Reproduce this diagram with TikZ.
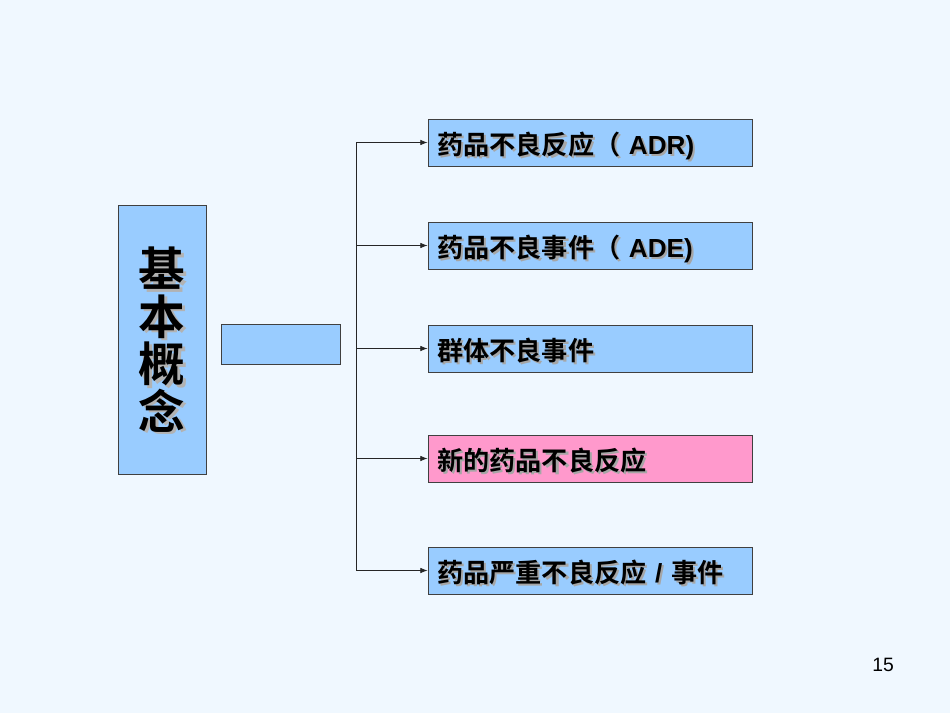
\documentclass[tikz,border=0pt]{standalone}
\usepackage{fontspec}
\setmainfont{Liberation Sans}
\newfontfamily\cjk{Noto Sans CJK SC}[BoldFont={Noto Sans CJK SC Bold}]
\usetikzlibrary{arrows.meta}

\definecolor{slidebg}{RGB}{240,248,255}
\definecolor{boxblue}{RGB}{153,204,255}
\definecolor{boxpink}{RGB}{255,153,204}

% text with a soft grey drop shadow
\newcommand{\shadowed}[1]{\makebox[0pt][l]{\hspace{1.6pt}\raisebox{-1.6pt}{\color{black!35}#1}}#1}
\newcommand{\lat}[1]{{\fontspec{Liberation Sans}\bfseries #1}}

\tikzset{
  conceptbox/.style={draw=black!75, fill=boxblue, line width=0.6pt,
    minimum width=243pt, minimum height=35.25pt, inner xsep=7pt,
    text width=229pt, text height=19pt, text depth=1.2pt, align=left,
    font=\cjk\bfseries\fontsize{19.6}{22}\selectfont},
  titletxt/.style={align=center, inner sep=0pt,
    font=\cjk\bfseries\fontsize{35}{35.6}\selectfont},
  arr/.style={black!85, line width=0.6pt, -{Latex[length=5.5pt, width=4.2pt]}}
}

\begin{document}
\begin{tikzpicture}[x=0.75pt,y=-0.75pt]
\fill[slidebg] (0,0) rectangle (950,713);
\useasboundingbox (0,0) rectangle (950,713);

% left column
\node[draw=black!75, fill=boxblue, line width=0.6pt, minimum width=66pt,
  minimum height=201.75pt] (basic) at (162,339.5) {};
\node[titletxt, black!30] (titleshadow) at (164.5,342) {基\\本\\概\\念};
\node[titletxt] (title) at (basic.center) {基\\本\\概\\念};
\node[draw=black!75, fill=boxblue, line width=0.6pt, minimum width=89.25pt,
  minimum height=30pt] (blank) at (280.5,344) {};

% right column
\node[conceptbox] (adr) at (590,142.5) {\shadowed{药品不良反应（ \lat{ADR)}}};
\node[conceptbox] (ade) at (590,245.5) {\shadowed{药品不良事件（ \lat{ADE)}}};
\node[conceptbox] (group) at (590,348.5) {\shadowed{群体不良事件}};
\node[conceptbox, fill=boxpink] (newadr) at (590,458.5) {\shadowed{新的药品不良反应}};
\node[conceptbox] (serious) at (590,570.5) {\shadowed{药品严重不良反应\lat{ / }事件}};

% trunk and branches
\coordinate (top) at (356,142.5);
\coordinate (bot) at (356,570.5);
\draw[black!85, line width=0.6pt] (top) -- (bot);
\foreach \n in {adr,ade,group,newadr,serious}
  \draw[arr] (top |- \n.west) -- (\n.west);

\node[font=\fontsize{14.5}{16}\selectfont] (pageno) at (883,665) {15};
\end{tikzpicture}
\end{document}
